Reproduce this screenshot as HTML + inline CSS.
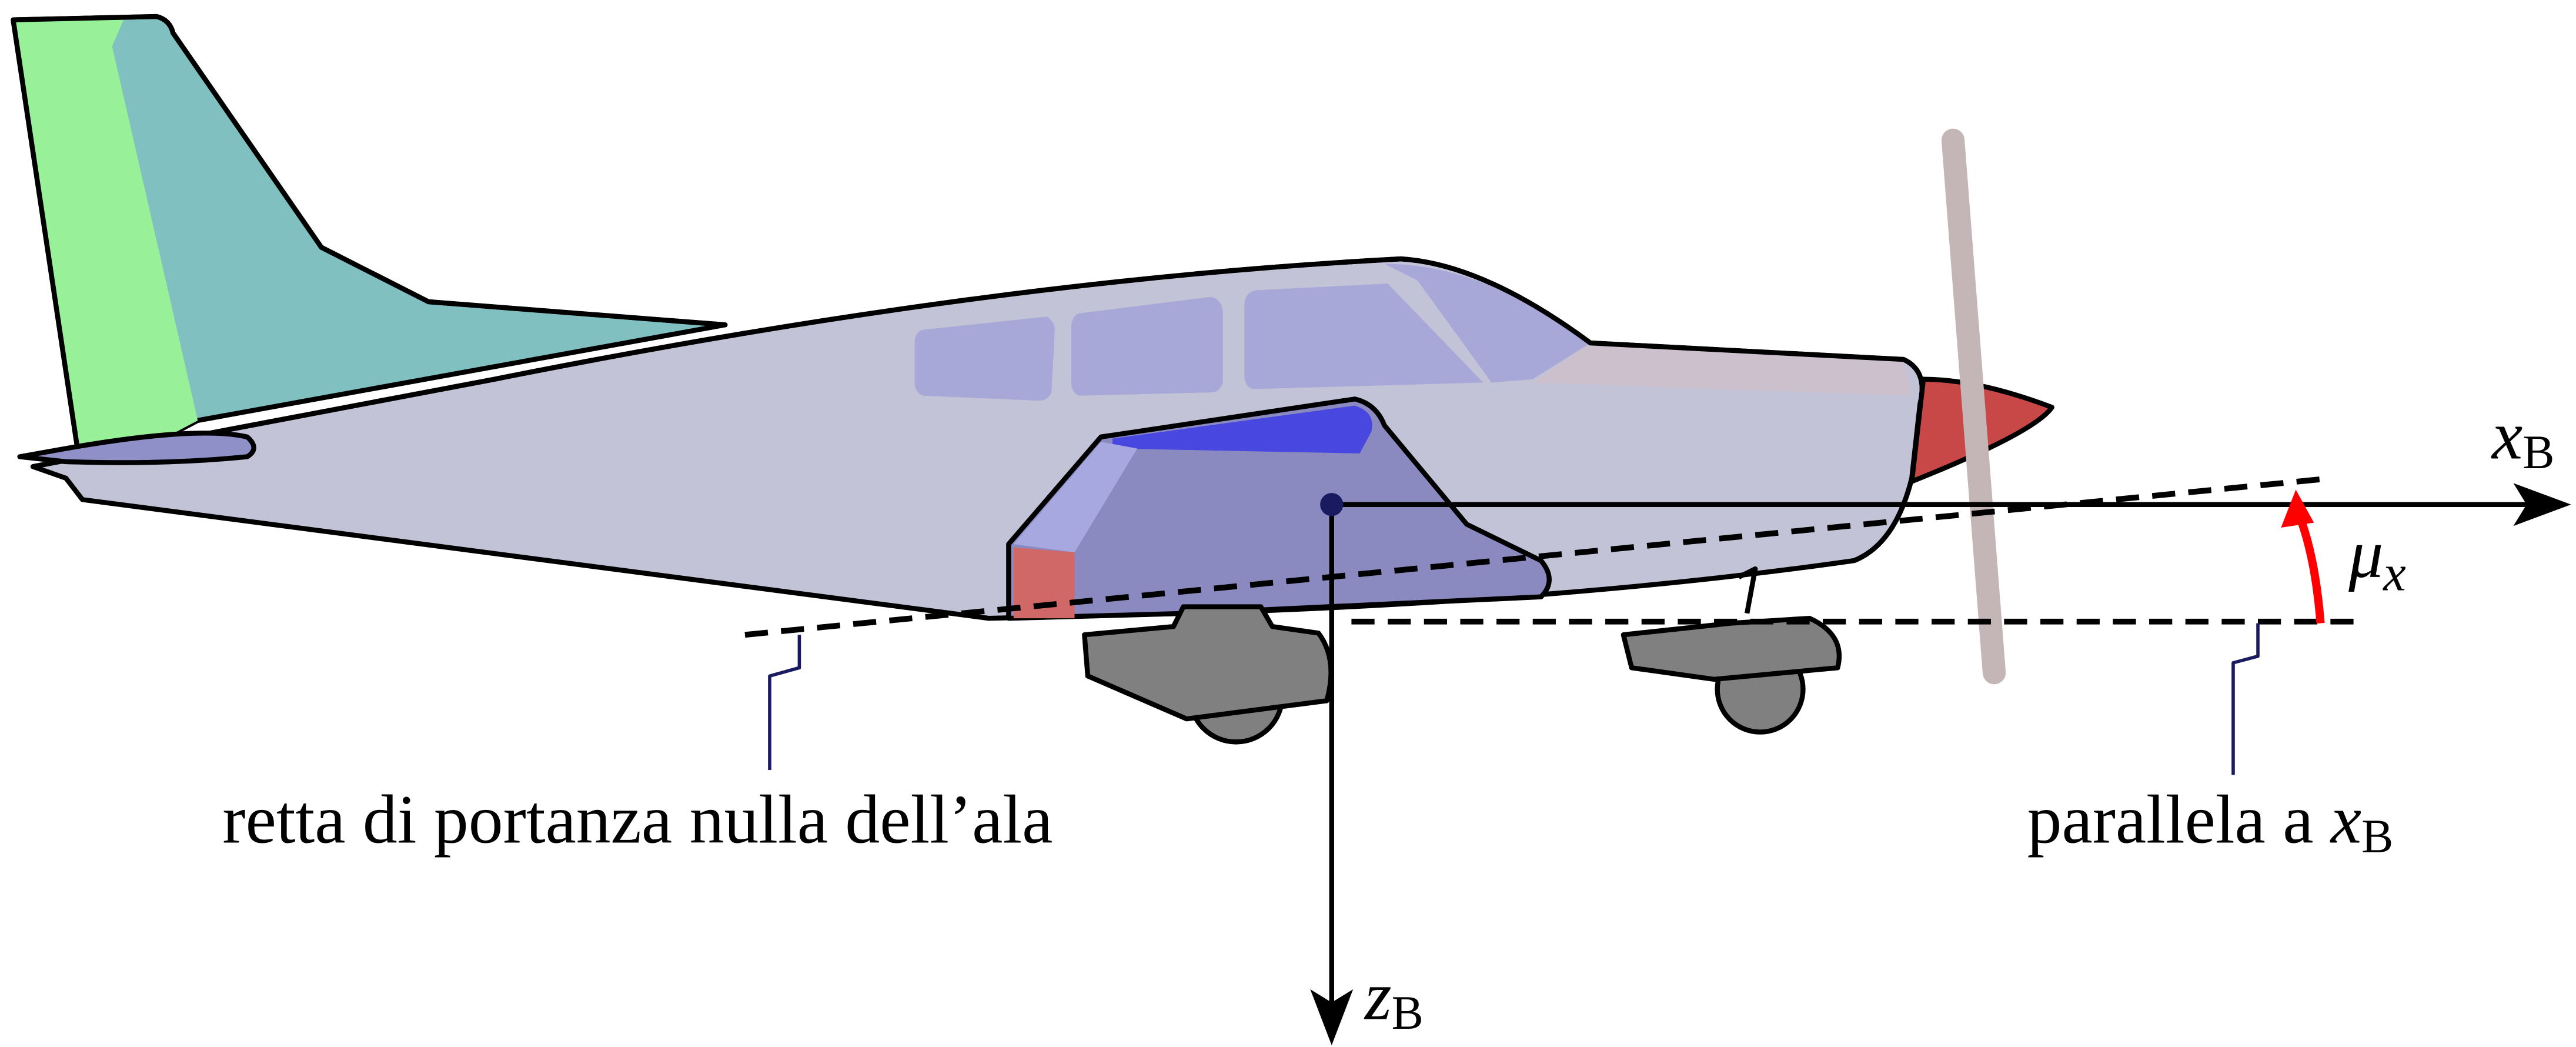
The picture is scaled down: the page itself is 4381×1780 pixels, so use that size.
<!DOCTYPE html>
<html><head><meta charset="utf-8"><style>html,body{margin:0;padding:0;background:#fff}svg{display:block}</style></head>
<body>
<svg width="4381" height="1780" viewBox="0 0 1563 635" xmlns="http://www.w3.org/2000/svg" stroke-linejoin="round">
<g stroke="#000" stroke-width="3">
<path d="M8,12 L95,10 Q103,12 105,20 L195,150 L260,183 L440,197 L120,255 L50,292 Z" fill="#80c0c0"/>
<path d="M8,12 L75,12 L68,28 L120,255 L50,292 Z" fill="#98f098" stroke="none"/>
<path d="M8,12 L95,10 Q103,12 105,20 L195,150 L260,183 L440,197 M50,292 L8,12" fill="none"/>
</g>
<path d="M40,290 L20,283 L300,230 Q600,170 850,157 Q900,160 965,208 L1155,218 Q1170,225 1165,245 L1160,290 Q1150,330 1125,340 Q950,365 720,372 L600,375 L50,303 Z" fill="#c3c3d8" stroke="#000" stroke-width="3"/>
<path d="M840,160 Q900,160 965,208 L930,230 L905,232 L860,170 Z" fill="#a7a7d8" stroke="none"/>
<path d="M965,208 L1155,218 L1160,240 L930,232 Z" fill="#ccc0cc" stroke="none"/>
<path d="M20,283 L300,230 Q600,170 850,157 Q900,160 965,208 L1155,218 Q1170,225 1165,245 L1160,290 Q1150,330 1125,340" fill="none" stroke="#000" stroke-width="3"/>
<g fill="#a8a8d8">
<path d="M560,200 L635,192 Q640,195 640,200 L638,238 Q636,243 630,243 L560,240 Q555,238 555,232 L555,206 Q556,201 560,200 Z"/>
<path d="M655,190 L735,180 Q742,182 742,190 L742,232 Q740,238 735,238 L655,240 Q650,238 650,232 L650,197 Q651,191 655,190 Z"/>
<path d="M762,176 L842,172 L900,232 L760,236 Q755,234 755,228 L755,184 Q756,177 762,176 Z"/>
</g>
<path d="M12,277 L40,272 Q120,258 150,265 Q158,272 150,277 Q100,282 40,280 Z" fill="#9090c8" stroke="#000" stroke-width="3"/>
<path d="M612,330 L668,265 L822,242 Q835,245 840,258 L890,318 L935,340 Q945,352 935,362 L720,372 L612,375 Z" fill="#8a8ac0" stroke="#000" stroke-width="3"/>
<path d="M675,266 L822,246 Q835,250 832,262 L825,275 L675,272 Z" fill="#4848e0"/>
<path d="M615,330 L668,268 L690,272 L652,335 Z" fill="#a8a8e0"/>
<path d="M615,332 L652,335 L652,375 L615,375 Z" fill="#d06868"/>
<path d="M1167,230 Q1200,230 1245,247 Q1235,262 1160,292 Z" fill="#c84848" stroke="#000" stroke-width="3"/>
<line x1="1185" y1="85" x2="1210" y2="408" stroke="#c4b6b6" stroke-width="14" stroke-linecap="round"/>
<g stroke="#000" stroke-width="3" fill="#808080">
<circle cx="750" cy="422" r="28"/>
<path d="M658,385 L712,380 L718,368 L765,368 L772,380 L800,384 Q812,400 805,425 L720,436 L660,410 Z"/>
</g>
<g stroke="#000" stroke-width="3" fill="#808080">
<path d="M1055,350 L1065,345 L1060,372" fill="none"/>
<circle cx="1068" cy="418" r="26"/>
<path d="M985,385 L1050,378 L1098,375 Q1120,385 1115,405 L1040,412 L990,405 Z"/>
</g>
<path d="M452,385 L1415,290" stroke="#000" stroke-width="3.5" stroke-dasharray="14,8" fill="none"/>
<path d="M820,377 L1432,377" stroke="#000" stroke-width="3.5" stroke-dasharray="14,8" fill="none"/>
<g><line x1="808" y1="306" x2="1545" y2="306" stroke="#000" stroke-width="3"/><path d="M1560,306 L1525,293 L1533,306 L1525,319 Z"/></g>
<g><line x1="808" y1="306" x2="808" y2="620" stroke="#000" stroke-width="3"/><path d="M808,634 L795,600 L808,608 L821,600 Z"/></g>
<circle cx="808" cy="306" r="7" fill="#1a1a60"/>
<g><path d="M1408,378 Q1405,340 1396,315" stroke="#f00" stroke-width="5" fill="none"/><path d="M1393,297 L1384,320 L1404,317 Z" fill="#f00"/></g>
<path d="M467,467 L467,410 L485,405 L485,385" stroke="#1a1a60" stroke-width="2" fill="none"/>
<path d="M1355,470 L1355,402 L1370,398 L1370,378" stroke="#1a1a60" stroke-width="2" fill="none"/>
<g font-family="Liberation Serif, serif" font-size="42" fill="#000">
<text x="135" y="511">retta di portanza nulla dell’ala</text>
<text x="1230" y="511">parallela a <tspan font-style="italic">x</tspan><tspan font-size="29" dy="6">B</tspan></text>
<text x="1512" y="278" font-style="italic">x<tspan font-style="normal" font-size="29" dy="6">B</tspan></text>
<text x="828" y="618" font-style="italic">z<tspan font-style="normal" font-size="29" dy="6">B</tspan></text>
<text x="1425" y="350" font-style="italic">μ<tspan font-size="31" dy="8">x</tspan></text>
</g>
</svg>
</body></html>
